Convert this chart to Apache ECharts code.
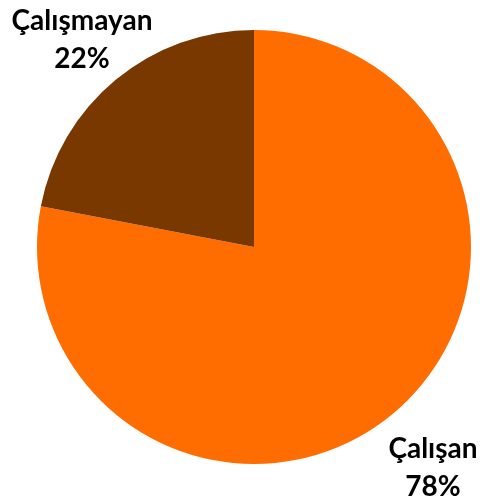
<!DOCTYPE html>
<html><head><meta charset="utf-8">
<script src="https://cdn.jsdelivr.net/npm/echarts@6/dist/echarts.min.js"></script>
<style>html,body{margin:0;padding:0;background:#fff}#c{width:480px;height:500px}</style>
</head><body><div id="c"></div>
<script>
const categories = ["Çalışan", "Çalışmayan"];
const values = [78, 22];
const colors = ["#FF6D00", "#783800"];
const labelPos = [[433, 468], [82, 40]];

const chart = echarts.init(document.getElementById('c'));
chart.setOption({
  animation: false,
  series: [{
    type: 'pie',
    center: [254, 247],
    radius: 217,
    startAngle: 90,
    clockwise: true,
    data: categories.map((n, i) => ({ name: n, value: values[i], itemStyle: { color: colors[i] } })),
    label: {
      show: true,
      position: 'inside',
      overflow: 'none',
      formatter: p => p.name + '\n' + p.value + '%',
      fontFamily: 'Lato',
      fontWeight: 'bold',
      fontSize: 28,
      lineHeight: 38,
      color: '#000',
      align: 'center',
      verticalAlign: 'middle'
    },
    labelLine: { show: false },
    labelLayout: p => ({ x: labelPos[p.dataIndex][0], y: labelPos[p.dataIndex][1], align: 'center', verticalAlign: 'middle' })
  }]
});
</script></body></html>
